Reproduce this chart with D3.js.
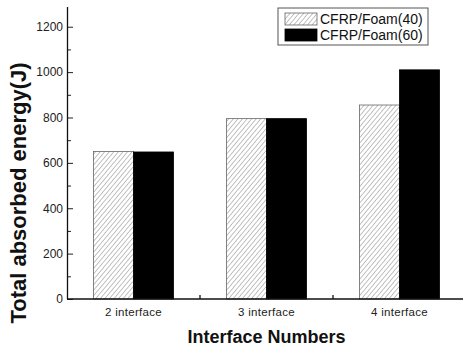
<!DOCTYPE html>
<html>
<head>
<meta charset="utf-8">
<script src="https://cdn.jsdelivr.net/npm/d3@7"></script>
<style>
  body { margin: 0; background: #fff; }
  svg { display: block; font-family: Arial, "Liberation Sans", sans-serif; }
</style>
</head>
<body>
<div id="app"></div>
<script>
// data
const categories = ['2 interface', '3 interface', '4 interface']
const foam40 = [650, 795, 855]
const foam60 = [648, 795, 1010]
const seriesNames = ['CFRP/Foam(40)', 'CFRP/Foam(60)']
const yMajorTicks = [0, 200, 400, 600, 800, 1000, 1200]
const yMinorTicks = [100, 300, 500, 700, 900, 1100]

const w = 463, h = 346
const m = { left: 67, right: -3, top: 7, bottom: 47 }

const svg = d3.select('#app').append('svg')
  .attr('width', w)
  .attr('height', h)

const defs = svg.append('defs')
defs.append('pattern')
  .attr('id', 'hatch')
  .attr('patternUnits', 'userSpaceOnUse')
  .attr('width', 3.5)
  .attr('height', 3.5)
  .attr('patternTransform', 'rotate(40)')
  .append('line')
  .attr('x1', 0).attr('y1', 0)
  .attr('x2', 0).attr('y2', 3.5)
  .attr('stroke', '#666')
  .attr('stroke-width', 0.8)

// scales
const x = d3.scaleBand()
  .domain(categories)
  .range([m.left, w - m.right])
  .paddingInner(0)
  .paddingOuter(0)

const inner = d3.scaleBand()
  .domain(seriesNames)
  .range([0, x.bandwidth()])
  .paddingOuter(0.66)
  .paddingInner(0)

const y = d3.scaleLinear()
  .domain([0, 1287])
  .range([h - m.bottom, m.top])

const rows = categories.map((c, i) => ({ cat: c, values: [foam40[i], foam60[i]] }))

// bars
const group = svg.append('g')
  .selectAll('g')
  .data(rows)
  .join('g')
  .attr('transform', d => `translate(${x(d.cat)},0)`)

group.selectAll('rect')
  .data(d => d.values.map((v, j) => ({ name: seriesNames[j], v, j })))
  .join('rect')
  .attr('x', d => inner(d.name))
  .attr('y', d => y(d.v))
  .attr('width', inner.bandwidth())
  .attr('height', d => y(0) - y(d.v))
  .attr('fill', d => d.j === 0 ? 'url(#hatch)' : '#000')
  .attr('stroke', d => d.j === 0 ? '#666' : '#000')
  .attr('stroke-width', 0.8)

// y axis
const yAxis = d3.axisRight(y)
  .tickValues(yMajorTicks)
  .tickSize(6)
  .tickFormat(d3.format('d'))

const yg = svg.append('g')
  .attr('transform', `translate(${m.left},0)`)
  .call(yAxis)
yg.select('.domain').remove()
yg.selectAll('.tick line').attr('stroke', '#222')
yg.selectAll('.tick text')
  .attr('x', -4)
  .attr('text-anchor', 'end')
  .attr('fill', '#222')
  .style('font-size', '12px')

svg.append('g')
  .attr('transform', `translate(${m.left},0)`)
  .selectAll('line')
  .data(yMinorTicks)
  .join('line')
  .attr('x1', 0).attr('x2', 4)
  .attr('y1', d => y(d) + 0.5).attr('y2', d => y(d) + 0.5)
  .attr('stroke', '#222')

svg.append('line')
  .attr('x1', m.left + 0.5).attr('x2', m.left + 0.5)
  .attr('y1', m.top).attr('y2', y(0))
  .attr('stroke', '#111')
  .attr('stroke-width', 1.3)

// x axis
const xAxis = d3.axisBottom(x).tickSize(0).tickPadding(9)
const xg = svg.append('g')
  .attr('transform', `translate(0,${y(0)})`)
  .call(xAxis)
xg.select('.domain').remove()
xg.selectAll('.tick text')
  .attr('fill', '#222')
  .style('font-size', '11.5px')
  .style('letter-spacing', '0.3px')

svg.append('line')
  .attr('x1', m.left).attr('x2', w)
  .attr('y1', y(0)).attr('y2', y(0))
  .attr('stroke', '#111')
  .attr('stroke-width', 1.3)

// boundary ticks between categories
svg.append('g')
  .selectAll('line')
  .data(categories.slice(1))
  .join('line')
  .attr('x1', d => x(d)).attr('x2', d => x(d))
  .attr('y1', y(0)).attr('y2', y(0) - 4)
  .attr('stroke', '#111')
  .attr('stroke-width', 1.3)

// axis titles
svg.append('text')
  .attr('x', (m.left + w - m.right) / 2)
  .attr('y', 343)
  .attr('text-anchor', 'middle')
  .style('font-size', '18px')
  .style('font-weight', 'bold')
  .attr('fill', '#111')
  .text('Interface Numbers')

svg.append('text')
  .attr('transform', `translate(26,193) rotate(-90)`)
  .attr('text-anchor', 'middle')
  .style('font-size', '22px')
  .style('font-weight', 'bold')
  .attr('fill', '#111')
  .text('Total absorbed energy(J)')

// legend
const legend = svg.append('g')
  .attr('transform', 'translate(278,8)')

legend.append('rect')
  .attr('width', 150)
  .attr('height', 37)
  .attr('fill', '#fff')
  .attr('stroke', '#555')

const li = legend.selectAll('g')
  .data(seriesNames)
  .join('g')
  .attr('transform', (d, i) => `translate(7,${5 + i * 16})`)

li.append('rect')
  .attr('width', 32)
  .attr('height', 12)
  .attr('fill', (d, i) => i === 0 ? 'url(#hatch)' : '#000')
  .attr('stroke', (d, i) => i === 0 ? '#666' : '#000')
  .attr('stroke-width', 0.8)

li.append('text')
  .attr('x', 35)
  .attr('y', 11)
  .style('font-size', '14px')
  .attr('fill', '#111')
  .text(d => d)
</script>
</body>
</html>
